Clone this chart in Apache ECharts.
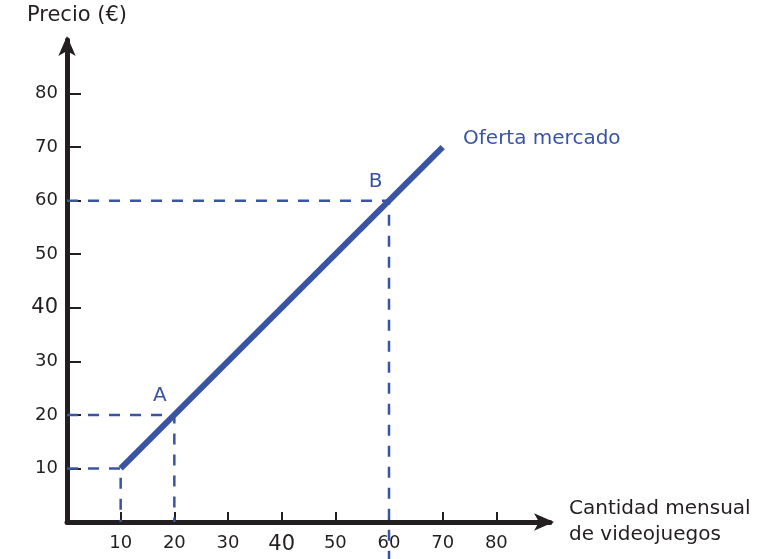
<!DOCTYPE html>
<html>
<head>
<meta charset="utf-8">
<script src="https://cdn.jsdelivr.net/npm/echarts@6/dist/echarts.min.js"></script>
<style>
  html, body { margin: 0; padding: 0; background: #fff; }
  #main { width: 781px; height: 559px; }
</style>
</head>
<body>
<div id="main"></div>
<script>
var ticks = [10, 20, 30, 40, 50, 60, 70, 80];
var supply = [[10, 10], [70, 70]];
var guideA0 = [[0, 10], [10, 10], [10, 0]];
var guideA = [[0, 20], [20, 20], [20, 0]];
var guideB = [[0, 60], [60, 60], [60, -7]];
var pointLabels = [[17.3, 23.6, 'A'], [57.5, 63.6, 'B']];
var seriesLabel = [[73.8, 71.6, 'Oferta mercado']];

var blue = '#3a54a4';
var ink = '#231f20';
var font = 'DejaVu Sans';

function tickFmt(v) {
    return v === 40 ? '{big|40}' : String(v);
}

var myChart = echarts.init(document.getElementById('main'));
var option = {
    backgroundColor: '#fff',
    animation: false,
    textStyle: { fontFamily: font },
    grid: {
        left: 67, top: 40, width: 483, height: 482,
        containLabel: false, outerBoundsMode: 'none'
    },
    xAxis: {
        type: 'value',
        min: 0,
        max: 90,
        name: 'Cantidad mensual\nde videojuegos',
        nameLocation: 'end',
        nameGap: 19,
        nameMoveOverlap: false,
        nameTextStyle: {
            color: ink, fontSize: 20, fontFamily: font, align: 'left',
            verticalAlign: 'middle', lineHeight: 26, padding: [24, 0, 0, 0]
        },
        axisLine: {
            lineStyle: { color: ink, width: 5 },
            symbol: ['none', 'arrow'],
            symbolSize: [13, 20],
            symbolOffset: [0, 4]
        },
        axisTick: {
            inside: true, length: 10, customValues: ticks,
            lineStyle: { color: ink, width: 2 }
        },
        axisLabel: {
            customValues: ticks, formatter: tickFmt, margin: 12,
            color: ink, fontSize: 18, fontFamily: font,
            rich: { big: { fontSize: 21, color: ink, fontFamily: font } }
        },
        splitLine: { show: false }
    },
    yAxis: {
        type: 'value',
        min: 0,
        max: 90,
        name: 'Precio (€)',
        nameLocation: 'end',
        nameGap: 14,
        nameMoveOverlap: false,
        nameTextStyle: {
            color: ink, fontSize: 21, fontFamily: font, padding: [0, 0, 0, 20]
        },
        axisLine: {
            lineStyle: { color: ink, width: 5 },
            symbol: ['none', 'arrow'],
            symbolSize: [13, 20],
            symbolOffset: [0, 4]
        },
        axisTick: {
            inside: true, length: 14, customValues: ticks,
            lineStyle: { color: ink, width: 2 }
        },
        axisLabel: {
            customValues: ticks, formatter: tickFmt, margin: 9,
            color: ink, fontSize: 18, fontFamily: font,
            rich: { big: { fontSize: 21, color: ink, fontFamily: font } }
        },
        splitLine: { show: false }
    },
    series: [
        {
            type: 'line', data: guideA0, symbol: 'none', clip: false, z: 1,
            lineStyle: { color: blue, width: 2.5, type: [11, 10] }
        },
        {
            type: 'line', data: guideA, symbol: 'none', clip: false, z: 1,
            lineStyle: { color: blue, width: 2.5, type: [11, 10] }
        },
        {
            type: 'line', data: guideB, symbol: 'none', clip: false, z: 1,
            lineStyle: { color: blue, width: 2.5, type: [11, 10] }
        },
        {
            type: 'line', data: supply, symbol: 'none', z: 3,
            lineStyle: { color: blue, width: 6, cap: 'butt' }
        },
        {
            type: 'scatter', data: pointLabels, symbolSize: 0, z: 4,
            itemStyle: { opacity: 1 },
            label: {
                show: true, position: 'inside', color: blue, fontSize: 20, fontFamily: font,
                formatter: function (p) { return p.data[2]; }
            }
        },
        {
            type: 'scatter', data: seriesLabel, symbolSize: 0, z: 4,
            itemStyle: { opacity: 1 },
            label: {
                show: true, position: 'right', distance: 0, color: blue, fontSize: 20, fontFamily: font,
                formatter: function (p) { return p.data[2]; }
            }
        }
    ]
};
myChart.setOption(option);
</script>
</body>
</html>
